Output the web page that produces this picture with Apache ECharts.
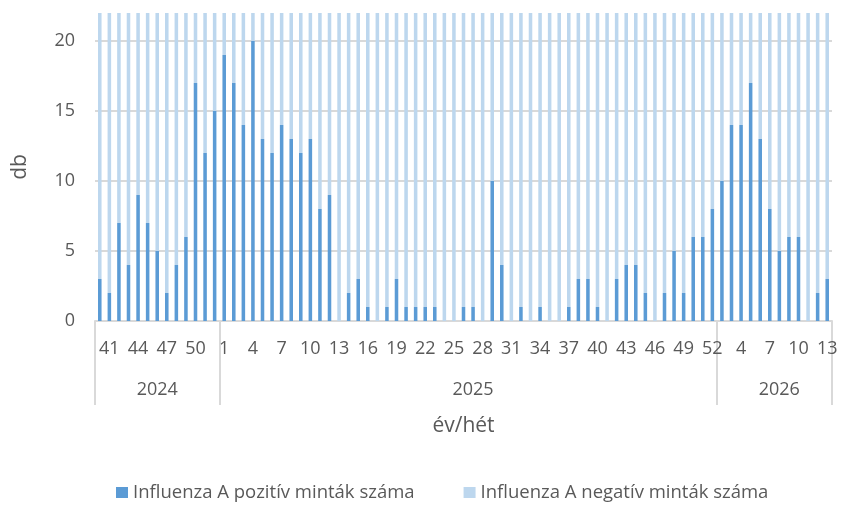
<!DOCTYPE html>
<html>
<head>
<meta charset="utf-8">
<script src="https://cdn.jsdelivr.net/npm/echarts@6/dist/echarts.min.js"></script>
<style>
  html, body { margin: 0; padding: 0; background: #fff; }
  #chart { width: 844px; height: 513px; }
</style>
</head>
<body>
<div id="chart"></div>
<script>
// heti adatok, 2024/40 - 2026/13
var years = ["2024", "2025", "2026"];
var weeks2024 = [40, 41, 42, 43, 44, 45, 46, 47, 48, 49, 50, 51, 52];
var weeks2025 = [1, 2, 3, 4, 5, 6, 7, 8, 9, 10, 11, 12, 13, 14, 15, 16, 17, 18, 19, 20,
  21, 22, 23, 24, 25, 26, 27, 28, 29, 30, 31, 32, 33, 34, 35, 36, 37, 38, 39, 40,
  41, 42, 43, 44, 45, 46, 47, 48, 49, 50, 51, 52];
var weeks2026 = [2, 3, 4, 5, 6, 7, 8, 9, 10, 11, 12, 13];

var pos2024 = [3, 2, 7, 4, 9, 7, 5, 2, 4, 6, 17, 12, 15];
var pos2025 = [19, 17, 14, 20, 13, 12, 14, 13, 12, 13, 8, 9, 0, 2, 3, 1, 0, 1, 3, 1,
  1, 1, 1, 0, 0, 1, 1, 0, 10, 4, 0, 1, 0, 1, 0, 0, 1, 3, 3, 1,
  0, 3, 4, 4, 2, 0, 2, 5, 2, 6, 6, 8];
var pos2026 = [10, 14, 14, 17, 13, 8, 5, 6, 6, 0, 2, 3];

var neg2024 = [19, 20, 15, 18, 13, 15, 17, 20, 18, 16, 5, 10, 7];
var neg2025 = [3, 5, 8, 2, 9, 10, 8, 9, 10, 9, 14, 13, 22, 20, 19, 21, 22, 21, 19, 21,
  21, 21, 21, 22, 22, 21, 21, 22, 12, 18, 22, 21, 22, 21, 22, 22, 21, 19, 19, 21,
  22, 19, 18, 18, 20, 22, 20, 17, 20, 16, 16, 14];
var neg2026 = [12, 8, 8, 5, 9, 14, 17, 16, 16, 22, 20, 19];

var yTicks = [0, 5, 10, 15, 20];

var weekGroups = [weeks2024, weeks2025, weeks2026];
var cats = [];
var catYear = [];
weekGroups.forEach(function (ws, g) {
  ws.forEach(function (w) {
    cats.push(years[g] + "-" + w);
    catYear.push(g);
  });
});
var positive = pos2024.concat(pos2025, pos2026);
var negative = neg2024.concat(neg2025, neg2026);

// a csoport közepére írjuk az évet
var yearLabelIdx = {};
weekGroups.forEach(function (ws, g) {
  var start = catYear.indexOf(g);
  yearLabelIdx[start + Math.floor((ws.length - 1) / 2)] = { g: g, half: ws.length % 2 === 0 };
});

var txt = "#595959";
var lineCol = "#D9D9D9";
var font = "Open Sans";

var chart = echarts.init(document.getElementById("chart"));
var option = {
  animation: false,
  textStyle: { fontFamily: font },
  grid: { left: 95, right: 12, top: 13, bottom: 192 },
  legend: {
    left: 111,
    top: 478,
    icon: "rect",
    itemWidth: 12,
    itemHeight: 11,
    itemGap: 49,
    textStyle: { color: txt, fontSize: 18.5, fontFamily: font },
    data: ["Influenza A pozitív minták száma", "Influenza A negatív minták száma"],
  },
  xAxis: [
    {
      type: "category",
      data: cats,
      axisLine: { lineStyle: { color: lineCol, width: 2 } },
      axisTick: {
        show: true,
        length: 84,
        lineStyle: { color: lineCol, width: 2 },
        interval: function (idx) {
          return idx === 0 || catYear[idx] !== catYear[idx - 1];
        },
      },
      axisLabel: {
        color: txt,
        fontSize: 18,
        margin: 19,
        interval: function (idx) {
          return idx % 3 === 1;
        },
        formatter: function (v) {
          return v.split("-")[1];
        },
      },
    },
    {
      type: "category",
      data: cats,
      position: "bottom",
      name: "év/hét",
      nameLocation: "middle",
      nameGap: 95,
      nameTextStyle: { color: txt, fontSize: 21, fontFamily: font },
      axisLine: { show: false },
      axisTick: { show: false },
      axisLabel: {
        color: txt,
        fontSize: 18,
        margin: 60,
        interval: function (idx) {
          return yearLabelIdx[idx] !== undefined;
        },
        formatter: function (v, idx) {
          var it = yearLabelIdx[idx];
          return it.half ? "{s|" + years[it.g] + "}" : years[it.g];
        },
        rich: {
          s: { color: txt, fontSize: 18, fontFamily: font, padding: [0, 0, 0, 19] },
        },
      },
    },
  ],
  yAxis: {
    type: "value",
    min: 0,
    max: 22,
    interval: 5,
    name: "db",
    nameLocation: "middle",
    nameGap: 64,
    nameTextStyle: { color: txt, fontSize: 21, fontFamily: font },
    axisLine: { show: false },
    axisTick: { show: false },
    axisLabel: {
      color: txt,
      fontSize: 18,
      margin: 20,
      showMaxLabel: false,
      formatter: function (v) {
        return yTicks.indexOf(v) >= 0 ? String(v) : "";
      },
    },
    splitLine: { show: true, showMaxLine: false, lineStyle: { color: lineCol, width: 2 } },
  },
  series: [
    {
      name: "Influenza A pozitív minták száma",
      type: "bar",
      stack: "total",
      barWidth: "37%",
      itemStyle: { color: "#5B9BD5" },
      data: positive,
    },
    {
      name: "Influenza A negatív minták száma",
      type: "bar",
      stack: "total",
      barWidth: "37%",
      itemStyle: { color: "#BDD7EE" },
      data: negative,
    },
  ],
};
chart.setOption(option);
</script>
</body>
</html>
